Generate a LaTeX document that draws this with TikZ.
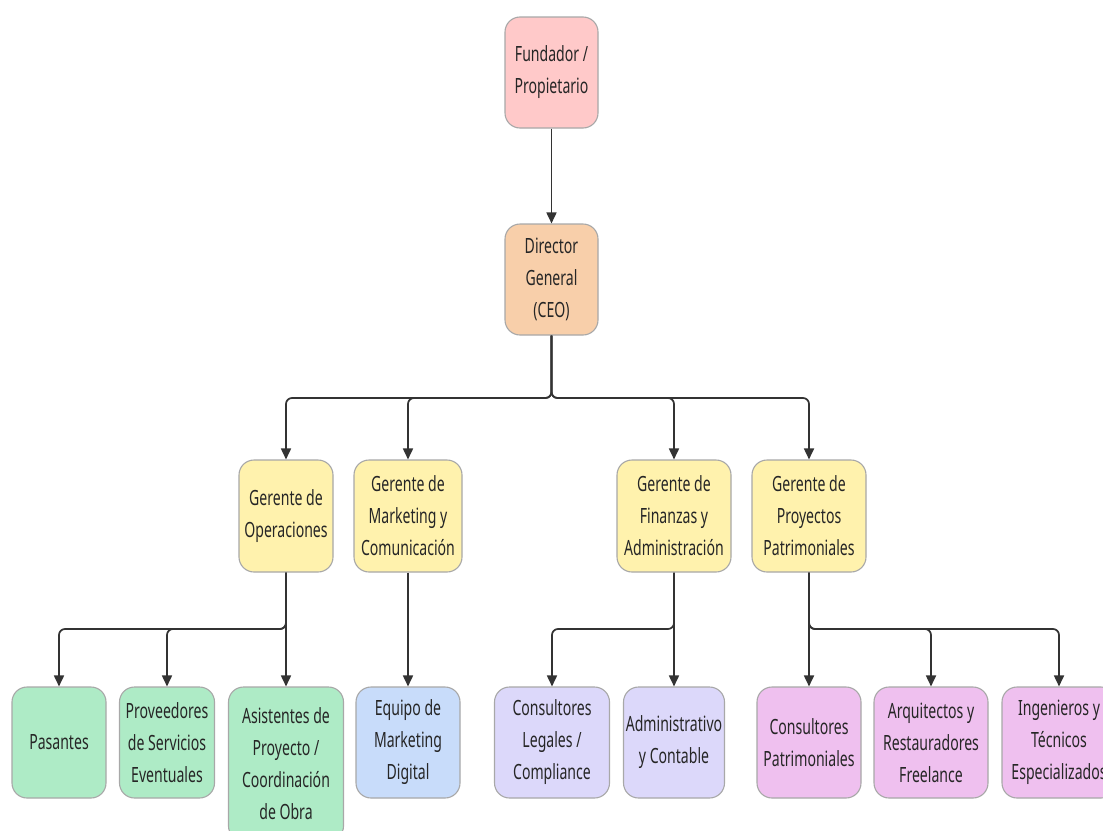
\documentclass[tikz,border=0pt]{standalone}
\usepackage{fontspec}
\setmainfont[FakeStretch=0.67]{Noto Sans}
\usetikzlibrary{arrows.meta}
\definecolor{cfund}{HTML}{FFC9C9}
\definecolor{cceo}{HTML}{F8CFAA}
\definecolor{cger}{HTML}{FFF2AD}
\definecolor{cgreen}{HTML}{AEEBC6}
\definecolor{cblue}{HTML}{C8DCFA}
\definecolor{clav}{HTML}{DCD8FA}
\definecolor{cpink}{HTML}{EFC0EF}
\definecolor{cline}{HTML}{333333}
\definecolor{ctext}{HTML}{262626}
\definecolor{cborder}{HTML}{A8A8A8}
\begin{document}
\begin{tikzpicture}[x=1pt,y=-1pt,
  box/.style={draw=cborder, line width=1.1pt, rounded corners=15pt, align=center,
    inner sep=0pt, minimum height=111pt, text=ctext,
    font=\fontsize{21}{32}\selectfont},
  conn/.style={draw=cline, line width=1.7pt, rounded corners=6pt,
    -{Triangle[length=11pt,width=10pt]}}]
\clip (0,0) rectangle (1103,830);
\fill[white] (0,0) rectangle (1103,830);
\coordinate (busA) at (0,398);
\coordinate (busB) at (0,629);
% level 0/1
\node[box, fill=cfund, minimum width=93pt] (fund) at (551.5,72.5) {Fundador /\\Propietario};
\node[box, fill=cceo, minimum width=93pt] (ceo) at (551.5,279.5) {Director\\General\\(CEO)};
% level 2
\node[box, fill=cger, minimum width=94pt, minimum height=112pt] (ops) at (286,516) {Gerente de\\Operaciones};
\node[box, fill=cger, minimum width=108pt, minimum height=112pt] (mkt) at (408,516) {Gerente de\\Marketing y\\Comunicación};
\node[box, fill=cger, minimum width=114pt, minimum height=112pt] (fin) at (674,516) {Gerente de\\Finanzas y\\Administración};
\node[box, fill=cger, minimum width=114pt, minimum height=112pt] (pro) at (809,516) {Gerente de\\Proyectos\\Patrimoniales};
% level 3
\node[box, fill=cgreen, minimum width=94pt] (pas) at (59,742.5) {Pasantes};
\node[box, fill=cgreen, minimum width=95pt] (prv) at (167,742.5) {Proveedores\\de Servicios\\Eventuales};
\node[box, fill=cgreen, minimum width=115pt, minimum height=154pt] (asi) at (286,764) {Asistentes de\\Proyecto /\\Coordinación\\de Obra};
\node[box, fill=cblue, minimum width=104pt] (eq) at (408,742.5) {Equipo de\\Marketing\\Digital};
\node[box, fill=clav, minimum width=115pt] (leg) at (552,742.5) {Consultores\\Legales /\\Compliance};
\node[box, fill=clav, minimum width=101pt] (adm) at (674,742.5) {Administrativo\\y Contable};
\node[box, fill=cpink, minimum width=104pt] (pat) at (809,742.5) {Consultores\\Patrimoniales};
\node[box, fill=cpink, minimum width=114pt] (arq) at (931,742.5) {Arquitectos y\\Restauradores\\Freelance};
\node[box, fill=cpink, minimum width=114pt] (ing) at (1059,742.5) {Ingenieros y\\Técnicos\\Especializados};
% connectors
\draw[conn] (fund.south) -- (ceo.north);
\draw[conn] (ceo.south) |- (busA -| ops.north) -- (ops.north);
\draw[conn] (ceo.south) |- (busA -| mkt.north) -- (mkt.north);
\draw[conn] (ceo.south) |- (busA -| fin.north) -- (fin.north);
\draw[conn] (ceo.south) |- (busA -| pro.north) -- (pro.north);
\draw[conn] (ops.south) |- (busB -| pas.north) -- (pas.north);
\draw[conn] (ops.south) |- (busB -| prv.north) -- (prv.north);
\draw[conn] (ops.south) -- (asi.north);
\draw[conn] (mkt.south) -- (eq.north);
\draw[conn] (fin.south) |- (busB -| leg.north) -- (leg.north);
\draw[conn] (fin.south) -- (adm.north);
\draw[conn] (pro.south) -- (pat.north);
\draw[conn] (pro.south) |- (busB -| arq.north) -- (arq.north);
\draw[conn] (pro.south) |- (busB -| ing.north) -- (ing.north);
\end{tikzpicture}
\end{document}
